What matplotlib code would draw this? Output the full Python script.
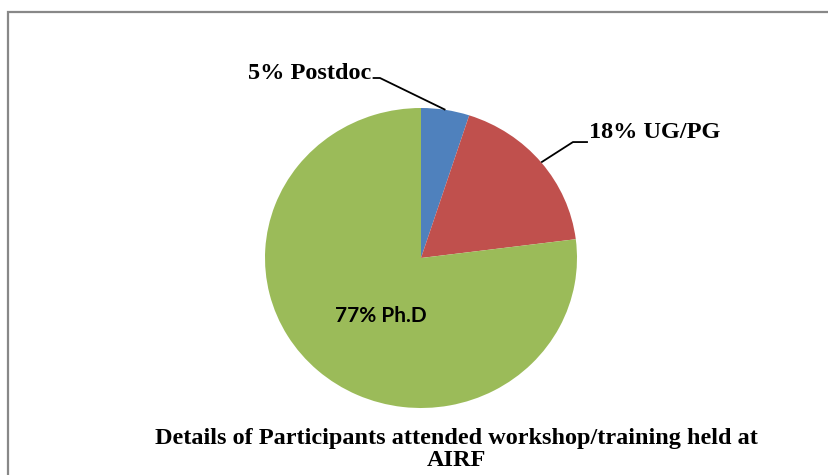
import numpy as np
import matplotlib.pyplot as plt
from matplotlib.patches import Rectangle

# participant share (%)
categories = ["Postdoc", "UG/PG", "Ph.D"]
shares = [5, 18, 77]
colors = ["#4F81BD", "#C0504D", "#9BBB59"]
title = "Details of Participants attended workshop/training held at\nAIRF"

W, H = 829, 475
fig = plt.figure(figsize=(W / 100, H / 100), dpi=100)
fig.patch.set_facecolor("white")

# pie box in pixels (left, right, top, bottom)
pl, pr, pt, pb = 265, 577, 108, 408
ax = fig.add_axes([pl / W, 1 - pb / H, (pr - pl) / W, (pb - pt) / H])
ax.pie(shares, colors=colors, startangle=90, counterclock=False,
       wedgeprops=dict(linewidth=0))
ax.set_aspect("auto")
ax.set_xlim(-1, 1)
ax.set_ylim(-1, 1)
ax.axis("off")

# mid angle of each wedge (degrees, from +x axis)
frac = np.array(shares) / sum(shares)
ends = 90 - 360 * np.cumsum(frac)
mids = ends + 180 * frac

serif = dict(family="Liberation Serif", weight="bold", fontsize=17.5)

# Postdoc label with leader
a = np.deg2rad(mids[0])
ax.plot([np.cos(a), -0.263, -0.31], [np.sin(a), 1.20, 1.20],
        color="black", lw=1.3, clip_on=False, solid_capstyle="butt")
ax.text(-0.32, 1.23, f"{shares[0]}% {categories[0]}", ha="right", va="center", **serif)

# UG/PG label with leader
a = np.deg2rad(mids[1])
ax.plot([np.cos(a), 0.974, 1.07], [np.sin(a), 0.773, 0.773],
        color="black", lw=1.3, clip_on=False, solid_capstyle="butt")
ax.text(1.08, 0.835, f"{shares[1]}% {categories[1]}", ha="left", va="center", **serif)

# Ph.D label inside
ax.text(-0.256, -0.387, f"{shares[2]}% {categories[2]}", ha="center", va="center",
        family="Lato", weight="bold", fontsize=15)

fig.text(456 / W, 1 - 449.5 / H, title, ha="center", va="center",
         family="Liberation Serif", weight="bold", fontsize=17.5, linespacing=1.12)

# chart frame, running past the right and bottom edges
fig.add_artist(Rectangle((8.5 / W, -0.5), 2, 1 - 12.5 / H + 0.5, transform=fig.transFigure,
                         fill=False, edgecolor="#888888", lw=1.6))

fig.savefig("out.png", dpi=100)
